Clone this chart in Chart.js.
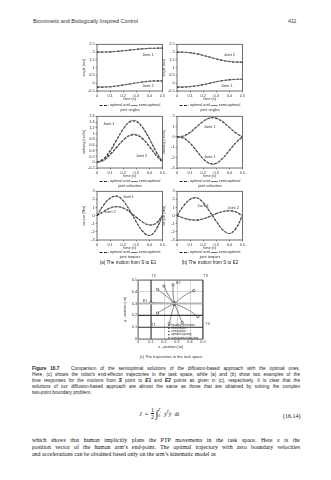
<!DOCTYPE html>
<html>
<head>
<meta charset="utf-8">
<script src="https://cdn.jsdelivr.net/npm/chart.js@4.4.1/dist/chart.umd.min.js"></script>
<style>
html,body{margin:0;padding:0;background:#fff;}
#page{position:relative;width:331px;height:480px;overflow:hidden;background:#fff;font-family:"Liberation Sans",Arial,sans-serif;color:#222;}
.t{position:absolute;white-space:nowrap;line-height:1;}
.c{transform:translateX(-50%);}
canvas{position:absolute;}
.lg{position:absolute;white-space:nowrap;font-size:3.8px;line-height:1;transform:translateX(-50%);color:#333;}
.sw{display:inline-block;width:7px;height:0;vertical-align:middle;margin:0 1px 0 0;}
.sw.o{border-top:1px dashed #111;}
.sw.s{border-top:0.8px solid #777;}
.cap{position:absolute;left:32px;width:268px;font-size:4.7px;line-height:6px;text-align:justify;text-align-last:justify;color:#222;}
.body{position:absolute;left:32px;width:268px;font-family:"Liberation Serif","Times New Roman",serif;font-size:5.9px;line-height:7px;text-align:justify;text-align-last:justify;color:#111;}
</style>
</head>
<body>
<div id="page">
  <div class="t" style="left:33px;top:19px;font-size:5.4px;color:#333;">Biomimetic and Biologically Inspired Control</div>
  <div class="t" style="left:288px;top:19px;font-size:5.4px;color:#333;">411</div>

  <canvas id="angA"></canvas><canvas id="angB"></canvas>
  <canvas id="velA"></canvas><canvas id="velB"></canvas>
  <canvas id="torA"></canvas><canvas id="torB"></canvas>
  <canvas id="task"></canvas>

  <div class="lg" style="left:130px;top:104px;"><span class="sw o"></span>- optimal and <span class="sw s"></span>semi-optimal</div>
  <div class="lg" style="left:130px;top:108.5px;">joint angles</div>
  <div class="lg" style="left:210px;top:104px;"><span class="sw o"></span>- optimal and <span class="sw s"></span>semi-optimal</div>
  <div class="lg" style="left:210px;top:108.5px;">joint angles</div>

  <div class="lg" style="left:130px;top:180px;"><span class="sw o"></span>- optimal and <span class="sw s"></span>semi-optimal</div>
  <div class="lg" style="left:130px;top:184.5px;">joint velocities</div>
  <div class="lg" style="left:210px;top:180px;"><span class="sw o"></span>- optimal and <span class="sw s"></span>semi-optimal</div>
  <div class="lg" style="left:210px;top:184.5px;">joint velocities</div>

  <div class="lg" style="left:130px;top:251px;"><span class="sw o"></span>- optimal and <span class="sw s"></span>semi-optimal</div>
  <div class="lg" style="left:130px;top:255.5px;">joint torques</div>
  <div class="lg" style="left:210px;top:251px;"><span class="sw o"></span>- optimal and <span class="sw s"></span>semi-optimal</div>
  <div class="lg" style="left:210px;top:255.5px;">joint torques</div>

  <div class="t c" style="left:128px;top:261px;font-size:4.6px;color:#222;">(a) The motion from S to E1</div>
  <div class="t c" style="left:210px;top:261px;font-size:4.6px;color:#222;">(b) The motion from S to E2</div>

  <div class="t c" style="left:171px;top:355px;font-size:3.9px;color:#333;">(c) The trajectories in the task space</div>

  <div class="cap" style="top:366px;"><b>Figure 16.7</b>&nbsp;&nbsp; Comparison of the semioptimal solutions of the diffusion-based approach with the optimal ones.</div>
  <div class="cap" style="top:372px;">Here, (c) shows the robot’s end-effector trajectories in the task space, while (a) and (b) show two examples of the</div>
  <div class="cap" style="top:378px;">time responses for the motions from <b><i>S</i></b> point to <b><i>E1</i></b> and <b><i>E2</i></b> points as given in (c), respectively. It is clear that the</div>
  <div class="cap" style="top:384px;">solutions of our diffusion-based approach are almost the same as those that are obtained by solving the complex</div>
  <div class="cap" style="top:390px;text-align-last:left;">two-point boundary problem.</div>

  <div class="t" style="left:139px;top:407px;font-family:'Liberation Serif',serif;font-size:6px;color:#111;">
    <span style="display:inline-block;vertical-align:middle;font-style:italic;">J</span>
    <span style="display:inline-block;vertical-align:middle;">&nbsp;=&nbsp;</span>
    <span style="display:inline-block;vertical-align:middle;text-align:center;line-height:6px;">1<br><span style="display:block;border-top:0.5px solid #111;">2</span></span>
    <span style="display:inline-block;vertical-align:middle;font-size:10px;">&int;</span><span style="display:inline-block;vertical-align:middle;font-size:3.6px;line-height:5px;"><i>T</i><sub style="font-size:2.6px">f</sub><br>0</span>
    <span style="display:inline-block;vertical-align:middle;">&nbsp;<i>&#7823;</i><sup style="font-size:3.6px"><i>T</i></sup><i>&#7823;</i>&nbsp; d<i>t</i></span>
  </div>
  <div class="t" style="left:283px;top:413px;font-family:'Liberation Serif',serif;font-size:6px;color:#111;">(16.14)</div>

  <div class="body" style="top:437px;">which shows that human implicitly plans the PTP movements in the task space. Here <i>x</i> is the</div>
  <div class="body" style="top:444px;">position vector of the human arm’s end-point. The optimal trajectory with zero boundary velocities</div>
  <div class="body" style="top:451px;text-align-last:left;">and accelerations can be obtained based only on the arm’s kinematic model as</div>
</div>

<script>
// ---- time base and ticks ----
const timeS = [0, 0.05, 0.1, 0.15, 0.2, 0.25, 0.3, 0.35, 0.4, 0.45, 0.5];
const timeTicks = [0, 0.1, 0.2, 0.3, 0.4, 0.5];
const timeTickLabels = ['0', '0.1', '0.2', '0.3', '0.4', '0.5'];

// ---- joint angles [rad] ----
const angTicks = [-0.5, 0, 0.5, 1, 1.5, 2, 2.5];
const angTickLabels = ['-0.5', '0', '0.5', '1', '1.5', '2', '2.5'];
const angA_j1_opt  = [2.00, 2.00, 2.01, 2.04, 2.08, 2.13, 2.17, 2.21, 2.24, 2.25, 2.25];
const angA_j1_semi = [2.00, 2.00, 2.02, 2.05, 2.09, 2.13, 2.18, 2.21, 2.23, 2.24, 2.25];
const angA_j2_opt  = [-0.25, -0.25, -0.23, -0.18, -0.12, -0.05, 0.02, 0.08, 0.13, 0.15, 0.15];
const angA_j2_semi = [-0.25, -0.24, -0.22, -0.17, -0.11, -0.05, 0.02, 0.08, 0.12, 0.14, 0.15];
const angB_j2_opt  = [2.00, 1.99, 1.96, 1.89, 1.79, 1.68, 1.56, 1.46, 1.39, 1.36, 1.35];
const angB_j2_semi = [2.00, 1.99, 1.95, 1.88, 1.78, 1.67, 1.56, 1.47, 1.40, 1.36, 1.35];
const angB_j1_opt  = [-0.25, -0.25, -0.22, -0.17, -0.09, 0.00, 0.09, 0.17, 0.22, 0.25, 0.25];
const angB_j1_semi = [-0.25, -0.24, -0.21, -0.16, -0.09, 0.00, 0.09, 0.16, 0.21, 0.24, 0.25];

// ---- joint velocities [rad/s] ----
const velATicks = [-0.2, 0, 0.2, 0.4, 0.6, 0.8, 1, 1.2, 1.4, 1.6];
const velATickLabels = ['-0.2', '0', '0.2', '0.4', '0.6', '0.8', '1', '1.2', '1.4', '1.6'];
const velA_j1_opt  = [0, 0.12, 0.40, 0.78, 1.15, 1.40, 1.42, 1.20, 0.82, 0.38, 0.02];
const velA_j1_semi = [0, 0.08, 0.36, 0.76, 1.15, 1.42, 1.44, 1.22, 0.84, 0.40, 0.03];
const velA_j2_opt  = [0, 0.08, 0.27, 0.52, 0.77, 0.93, 0.95, 0.81, 0.55, 0.25, 0.01];
const velA_j2_semi = [0, 0.05, 0.24, 0.50, 0.77, 0.94, 0.97, 0.83, 0.57, 0.27, 0.02];
const velBTicks = [-3, -2, -1, 0, 1, 2];
const velBTickLabels = ['-3', '-2', '-1', '0', '1', '2'];
const velB_j1_opt  = [0, 0.10, 0.45, 0.98, 1.50, 1.82, 1.80, 1.45, 0.92, 0.38, 0];
const velB_j1_semi = [0, 0.06, 0.40, 0.95, 1.50, 1.84, 1.83, 1.48, 0.95, 0.40, 0.02];
const velB_j2_opt  = [0, -0.12, -0.60, -1.35, -2.10, -2.55, -2.55, -2.05, -1.30, -0.55, 0];
const velB_j2_semi = [0, -0.08, -0.55, -1.32, -2.10, -2.58, -2.58, -2.08, -1.33, -0.58, -0.02];

// ---- joint torques [Nm] ----
const torTicks = [-3, -2, -1, 0, 1, 2, 3];
const torTickLabels = ['-3', '-2', '-1', '0', '1', '2', '3'];
const torA_j1_opt  = [0, 1.30, 2.15, 2.40, 1.85, 0.65, -0.75, -1.95, -2.45, -1.75, 0];
const torA_j1_semi = [0, 1.25, 2.12, 2.38, 1.85, 0.68, -0.72, -1.93, -2.45, -1.78, -0.02];
const torA_j2_opt  = [0, 0.50, 0.95, 1.10, 0.95, 0.45, -0.20, -0.80, -1.15, -0.95, 0];
const torA_j2_semi = [0, 0.48, 0.93, 1.10, 0.96, 0.47, -0.18, -0.79, -1.15, -0.97, -0.02];
const torB_j1_opt  = [0, 1.20, 2.00, 2.20, 1.60, 0.50, -0.70, -1.75, -2.20, -1.60, 0];
const torB_j1_semi = [0, 1.15, 1.97, 2.19, 1.62, 0.53, -0.68, -1.74, -2.21, -1.63, -0.02];
const torB_j2_opt  = [0, -0.30, -0.50, -0.55, -0.40, -0.10, 0.25, 0.50, 0.60, 0.45, 0];
const torB_j2_semi = [0, -0.28, -0.49, -0.55, -0.41, -0.11, 0.24, 0.50, 0.61, 0.46, 0.01];

// ---- curve labels: [text, t, value] ----
const angA_notes = [['Joint 1', 0.39, 1.82], ['Joint 2', 0.39, -0.18]];
const angB_notes = [['Joint 2', 0.40, 1.82], ['Joint 1', 0.38, -0.18]];
const velA_notes = [['Joint 1', 0.09, 1.32], ['Joint 2', 0.34, 0.22]];
const velB_notes = [['Joint 1', 0.25, 0.95], ['Joint 1', 0.25, -1.95]];
const torA_notes = [['Joint 1', 0.24, 2.3], ['Joint 2', 0.10, 0.45]];
const torB_notes = [['Joint 1', 0.20, 1.25], ['Joint 2', 0.43, 0.95]];

// ---- task space [m] ----
const posTicks = [0, 0.1, 0.2, 0.3, 0.4, 0.5];
const posTickLabels = ['0', '0.1', '0.2', '0.3', '0.4', '0.5'];
const startS = [0.28, 0.30];
// each trajectory: start, bend point, end
const trajX = [
  [0.28, 0.21, 0.15], [0.28, 0.27, 0.27], [0.28, 0.36, 0.43], [0.28, 0.38, 0.46],
  [0.28, 0.21, 0.15], [0.28, 0.26, 0.24], [0.28, 0.19, 0.10], [0.28, 0.31, 0.34],
  [0.28, 0.23, 0.20]
];
const trajY = [
  [0.30, 0.37, 0.42], [0.30, 0.38, 0.46], [0.30, 0.37, 0.41], [0.30, 0.25, 0.19],
  [0.30, 0.26, 0.22], [0.30, 0.22, 0.13], [0.30, 0.305, 0.31], [0.30, 0.22, 0.14],
  [0.30, 0.38, 0.45]
];
// workspace boundary lines: [x0, y0, x1, y1]
const boundDark = [[0.1, 0, 0.1, 0.5], [0, 0.1, 0.5, 0.1], [0, 0.2, 0.5, 0.2], [0.5, 0, 0.5, 0.5]];
const boundLight = [[0, 0.3, 0.5, 0.3]];
const taskNotes = [['T1', 0.12, 0.12], ['T2', 0.12, 0.53], ['T3', 0.52, 0.53], ['T4', 0.535, 0.13],
                   ['E1', 0.055, 0.325], ['E2', 0.31, 0.475]];
const taskLegend = ['heading information', 'elementation', 'semisolution', 'optimal trajectory', 'semi-optimal trajectory'];

// ---- drawing helpers ----
const FONT = '"Liberation Sans", Arial, sans-serif';
Chart.defaults.font.family = FONT;
Chart.defaults.color = '#333';

const framePlugin = {
  id: 'frame',
  afterDatasetsDraw(chart) {
    const a = chart.chartArea, c = chart.ctx;
    c.save(); c.strokeStyle = '#333'; c.lineWidth = 0.7;
    c.strokeRect(a.left, a.top, a.right - a.left, a.bottom - a.top);
    c.restore();
  }
};
const notesPlugin = {
  id: 'notes',
  afterDraw(chart, args, opts) {
    const c = chart.ctx, xs = chart.scales.x, ys = chart.scales.y;
    c.save();
    c.font = (opts.size || 3.8) + 'px ' + FONT;
    c.fillStyle = '#333'; c.textAlign = 'center'; c.textBaseline = 'middle';
    (opts.items || []).forEach(([txt, x, y]) => c.fillText(txt, xs.getPixelForValue(x), ys.getPixelForValue(y)));
    c.restore();
  }
};

function place(cv, left, top, w, h) {
  cv.width = w; cv.height = h;
  cv.style.left = left + 'px'; cv.style.top = top + 'px';
  cv.style.width = w + 'px'; cv.style.height = h + 'px';
}

function axis(ticks, labels, min, max, fitSize, isX, title) {
  return {
    type: 'linear', min, max,
    afterBuildTicks: s => { s.ticks = ticks.map(v => ({ value: v })); },
    ticks: { font: { size: 3.8 }, color: '#333', padding: 1, maxRotation: 0, autoSkip: false,
             callback: (v) => { const i = ticks.indexOf(v); return i >= 0 ? labels[i] : ''; } },
    grid: { drawOnChartArea: false, tickLength: 1.5, color: '#333', lineWidth: 0.5 },
    border: { display: false },
    title: { display: !!title, text: title, font: { size: 3.8 }, color: '#333', padding: 0.5 },
    afterFit: s => { if (isX) s.height = fitSize; else s.width = fitSize; }
  };
}

function curve(ys, optimal) {
  return {
    data: timeS.map((t, i) => ({ x: t, y: ys[i] })),
    borderColor: optimal ? '#111' : '#7a7a7a',
    borderWidth: optimal ? 1.1 : 0.8,
    borderDash: optimal ? [2.5, 1.5] : [],
    pointRadius: 0, tension: 0.4, fill: false
  };
}

function panel(id, plotL, plotT, plotW, plotH, yTicks, yLabels, yTitle, series, notes) {
  const padL = 16, padT = 3, padR = 3, padB = 11;
  const cv = document.getElementById(id);
  place(cv, plotL - padL, plotT - padT, plotW + padL + padR, plotH + padT + padB);
  const ds = [];
  series.forEach(([o, s]) => { ds.push(curve(s, false)); ds.push(curve(o, true)); });
  new Chart(cv, {
    type: 'line',
    data: { datasets: ds },
    options: {
      responsive: false, animation: false, events: [],
      layout: { padding: { left: 0, top: padT, right: padR, bottom: 0 } },
      plugins: { legend: { display: false }, tooltip: { enabled: false }, notes: { items: notes } },
      scales: {
        x: axis(timeTicks, timeTickLabels, 0, 0.5, padB, true, 'time (s)'),
        y: axis(yTicks, yLabels, yTicks[0], yTicks[yTicks.length - 1], padL, false, yTitle)
      }
    },
    plugins: [framePlugin, notesPlugin]
  });
}

const LX = 97, RX = 177, PW = 66;
panel('angA', LX, 44, PW, 47, angTicks, angTickLabels, 'angle [rad]',
      [[angA_j1_opt, angA_j1_semi], [angA_j2_opt, angA_j2_semi]], angA_notes);
panel('angB', RX, 44, PW, 47, angTicks, angTickLabels, 'angle [rad]',
      [[angB_j2_opt, angB_j2_semi], [angB_j1_opt, angB_j1_semi]], angB_notes);
panel('velA', LX, 116, PW, 52, velATicks, velATickLabels, 'velocity [rad/s]',
      [[velA_j1_opt, velA_j1_semi], [velA_j2_opt, velA_j2_semi]], velA_notes);
panel('velB', RX, 116, PW, 52, velBTicks, velBTickLabels, 'velocity [rad/s]',
      [[velB_j1_opt, velB_j1_semi], [velB_j2_opt, velB_j2_semi]], velB_notes);
panel('torA', LX, 191, PW, 49, torTicks, torTickLabels, 'torque [Nm]',
      [[torA_j1_opt, torA_j1_semi], [torA_j2_opt, torA_j2_semi]], torA_notes);
panel('torB', RX, 191, PW, 49, torTicks, torTickLabels, 'torque [Nm]',
      [[torB_j1_opt, torB_j1_semi], [torB_j2_opt, torB_j2_semi]], torB_notes);

// ---- task-space trajectories ----
(function () {
  const plotL = 138, plotT = 280, plotW = 65, plotH = 59;
  const padL = 16, padT = 8, padR = 10, padB = 11;
  const cv = document.getElementById('task');
  place(cv, plotL - padL, plotT - padT, plotW + padL + padR, plotH + padT + padB);
  const seg = (b, color, w) => ({
    data: [{ x: b[0], y: b[1] }, { x: b[2], y: b[3] }],
    borderColor: color, borderWidth: w, pointRadius: 0, showLine: true, fill: false
  });
  const ds = [];
  boundLight.forEach(b => ds.push(seg(b, '#b5b5b5', 2)));
  boundDark.forEach(b => ds.push(seg(b, '#3a3a3a', 1.1)));
  trajX.forEach((xs, k) => {
    const pts = xs.map((x, i) => ({ x, y: trajY[k][i] }));
    ds.push({ data: pts, borderColor: '#555', borderWidth: 0.7, tension: 0.5, showLine: true,
              pointRadius: [0, 0, 1.2], pointBackgroundColor: '#fff', pointBorderColor: '#222',
              pointBorderWidth: 0.6, fill: false });
  });
  ds.push({ data: [{ x: startS[0], y: startS[1] }], pointRadius: 1.8, pointBackgroundColor: '#444',
            pointBorderColor: '#222', showLine: false });
  const legendPlugin = {
    id: 'taskLegend',
    afterDraw(chart) {
      const c = chart.ctx, xs = chart.scales.x, ys = chart.scales.y;
      c.save();
      c.font = '2.7px ' + FONT; c.fillStyle = '#333'; c.textBaseline = 'middle';
      const x0 = xs.getPixelForValue(0.255);
      taskLegend.forEach((s, i) => {
        const y = ys.getPixelForValue(0.118) + i * 3.2;
        c.fillRect(x0 - 3, y - 0.6, 1.4, 1.2);
        c.fillText(s, x0, y);
      });
      c.restore();
    }
  };
  new Chart(cv, {
    type: 'scatter',
    data: { datasets: ds },
    options: {
      responsive: false, animation: false, events: [],
      layout: { padding: { left: 0, top: padT, right: padR, bottom: 0 } },
      plugins: { legend: { display: false }, tooltip: { enabled: false }, notes: { items: taskNotes, size: 3.6 } },
      scales: {
        x: Object.assign(axis(posTicks, posTickLabels, 0, 0.5, padB, true, 'x - position [m]'),
                         { grid: { color: '#bdbdbd', lineWidth: 0.6, tickLength: 0 } }),
        y: Object.assign(axis(posTicks, posTickLabels, 0, 0.5, padL, false, 'y - position [m]'),
                         { grid: { color: '#bdbdbd', lineWidth: 0.6, tickLength: 0 } })
      }
    },
    plugins: [framePlugin, notesPlugin, legendPlugin]
  });
})();
</script>
</body>
</html>
